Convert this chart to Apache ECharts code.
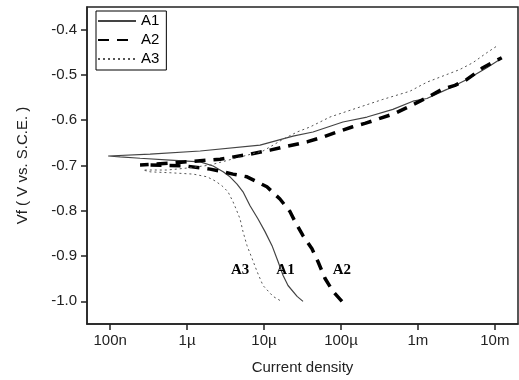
<!DOCTYPE html>
<html>
<head>
<meta charset="utf-8">
<script src="https://cdn.jsdelivr.net/npm/echarts@6/dist/echarts.min.js"></script>
<style>
  html, body { margin: 0; padding: 0; background: #fff; }
  #chart { width: 519px; height: 380px; }
</style>
</head>
<body>
<div id="chart"></div>
<script>
// current density (A) and potential (V), cathodic branch from -1.0 V up to Ecorr, then anodic
const a1Current = [3.21e-5, 2.69e-5, 2.05e-5, 1.77e-5, 1.52e-5, 1.27e-5, 1.03e-5, 8.36e-6, 6.58e-6, 5.33e-6, 4.46e-6, 3.61e-6, 2.94e-6, 2.18e-6, 1.48e-6, 6.01e-7, 2.45e-7, 1.35e-7, 9.42e-8,
    3.30e-7, 1.48e-6, 8.87e-6, 2.38e-5, 4.33e-5, 1.06e-4, 2.18e-4, 4.73e-4, 8.61e-4, 1.31e-3, 2.38e-3, 4.33e-3, 7.87e-3, 1.16e-2]
const a1Potential = [-1.000, -0.989, -0.965, -0.943, -0.912, -0.877, -0.846, -0.818, -0.789, -0.758, -0.741, -0.725, -0.714, -0.701, -0.692, -0.688, -0.684, -0.681, -0.679,
    -0.675, -0.668, -0.655, -0.635, -0.626, -0.604, -0.593, -0.576, -0.558, -0.552, -0.532, -0.510, -0.484, -0.466]

const a2Current = [1.03e-4, 7.87e-5, 6.19e-5, 5.02e-5, 4.20e-5, 3.21e-5, 2.53e-5, 2.18e-5, 1.61e-5, 1.09e-5, 8.11e-6, 6.01e-6, 3.95e-6, 2.94e-6, 1.99e-6, 9.42e-7, 3.30e-7, 2.45e-7,
    6.98e-7, 2.69e-6, 6.58e-6, 1.20e-5, 2.05e-5, 3.61e-5, 5.83e-5, 8.87e-5, 1.39e-4, 2.05e-4, 3.21e-4, 5.02e-4, 7.87e-4, 1.35e-3, 2.05e-3, 3.03e-3, 4.33e-3, 6.98e-3, 1.23e-2]
const a2Potential = [-1.000, -0.978, -0.949, -0.912, -0.884, -0.855, -0.824, -0.802, -0.774, -0.747, -0.736, -0.725, -0.719, -0.714, -0.708, -0.701, -0.699, -0.699,
    -0.694, -0.686, -0.675, -0.666, -0.657, -0.648, -0.637, -0.626, -0.615, -0.607, -0.596, -0.585, -0.569, -0.549, -0.532, -0.523, -0.510, -0.484, -0.462]

const a3Current = [1.61e-5, 1.31e-5, 9.70e-6, 8.11e-6, 6.98e-6, 6.01e-6, 5.33e-6, 4.88e-6, 4.33e-6, 3.95e-6, 3.40e-6, 2.85e-6, 2.31e-6, 1.82e-6, 1.20e-6, 6.01e-7, 3.30e-7, 2.69e-7,
    5.50e-7, 1.09e-6, 1.99e-6, 3.84e-6, 9.70e-6, 1.77e-5, 2.69e-5, 3.95e-5, 7.19e-5, 1.43e-4, 3.51e-4, 7.87e-4, 1.31e-3, 1.93e-3, 3.51e-3, 5.18e-3, 7.87e-3, 1.09e-2]
const a3Potential = [-0.998, -0.989, -0.965, -0.934, -0.905, -0.877, -0.846, -0.818, -0.796, -0.780, -0.758, -0.745, -0.734, -0.725, -0.719, -0.716, -0.714, -0.710,
    -0.710, -0.705, -0.699, -0.686, -0.668, -0.642, -0.626, -0.615, -0.593, -0.576, -0.554, -0.536, -0.516, -0.505, -0.488, -0.473, -0.451, -0.435]

const xTicks = [1e-7, 1e-6, 1e-5, 1e-4, 1e-3, 1e-2]
const xTickLabels = ['100n', '1µ', '10µ', '100µ', '1m', '10m']
const yTicks = [-1.0, -0.9, -0.8, -0.7, -0.6, -0.5, -0.4]

// curve tags placed on the plot: [name, current, potential]
const curveTags = [['A3', 4.9e-6, -0.93], ['A1', 1.9e-5, -0.93], ['A2', 1.03e-4, -0.93]]

const zip = (xs, ys) => xs.map((x, i) => [x, ys[i]])
const font = 'Arial, "Liberation Sans", sans-serif'
const frame = { color: '#222', width: 1.5 }

const tagPoint = (name) => {
    const t = curveTags.find((c) => c[0] === name)
    return {
        symbol: 'circle',
        symbolSize: 1,
        itemStyle: { color: 'transparent' },
        label: { show: true, position: 'inside', color: '#000', fontFamily: '"Liberation Serif", "Times New Roman", serif', fontWeight: 'bold', fontSize: 15 },
        data: [{ coord: [t[1], t[2]], value: name }],
    }
}

const chart = echarts.init(document.getElementById('chart'), null, { renderer: 'canvas' })
chart.setOption({
    animation: false,
    grid: { left: 87, right: 1, top: 7, bottom: 54, show: true, borderColor: '#222', borderWidth: 1.5 },
    legend: {
        left: 96,
        top: 11,
        orient: 'vertical',
        itemWidth: 38,
        itemHeight: 14,
        itemGap: 3,
        padding: [2, 7, 3, 1],
        borderColor: '#000',
        borderWidth: 1,
        itemStyle: { opacity: 0 },
        textStyle: { fontFamily: font, fontSize: 15, color: '#000', lineHeight: 16 },
        data: ['A1', 'A2', 'A3'],
    },
    xAxis: {
        type: 'log',
        logBase: 10,
        min: 5e-8,
        max: 2e-2,
        name: 'Current density',
        nameLocation: 'middle',
        nameGap: 36,
        nameTextStyle: { fontFamily: font, fontSize: 15, color: '#222' },
        axisLine: { lineStyle: frame },
        axisTick: { customValues: xTicks, length: 6, lineStyle: frame },
        axisLabel: {
            customValues: xTicks,
            margin: 9,
            fontFamily: font,
            fontSize: 15,
            color: '#222',
            formatter: (v) => xTickLabels[xTicks.findIndex((t) => Math.abs(Math.log10(t) - Math.log10(v)) < 1e-6)] || '',
        },
        splitLine: { show: false },
        minorTick: { show: false },
    },
    yAxis: {
        type: 'value',
        min: -1.05,
        max: -0.35,
        name: 'Vf ( V vs. S.C.E. )',
        nameLocation: 'middle',
        nameGap: 57,
        nameTextStyle: { fontFamily: font, fontSize: 15, color: '#222' },
        axisLine: { lineStyle: frame },
        axisTick: { customValues: yTicks, length: 6, lineStyle: frame },
        axisLabel: { customValues: yTicks, margin: 10, fontFamily: font, fontSize: 15, color: '#222', formatter: (v) => v.toFixed(1) },
        splitLine: { show: false },
    },
    series: [
        {
            name: 'A1',
            type: 'line',
            symbol: 'none',
            data: zip(a1Current, a1Potential),
            lineStyle: { color: '#444', width: 1.2 },
            itemStyle: { color: '#444' },
            markPoint: tagPoint('A1'),
        },
        {
            name: 'A2',
            type: 'line',
            symbol: 'none',
            data: zip(a2Current, a2Potential),
            lineStyle: { color: '#000', width: 3.5, type: [11, 8] },
            itemStyle: { color: '#000' },
            markPoint: tagPoint('A2'),
        },
        {
            name: 'A3',
            type: 'line',
            symbol: 'none',
            data: zip(a3Current, a3Potential),
            lineStyle: { color: '#555', width: 1, type: [2, 3] },
            itemStyle: { color: '#555' },
            markPoint: tagPoint('A3'),
        },
    ],
})
</script>
</body>
</html>
